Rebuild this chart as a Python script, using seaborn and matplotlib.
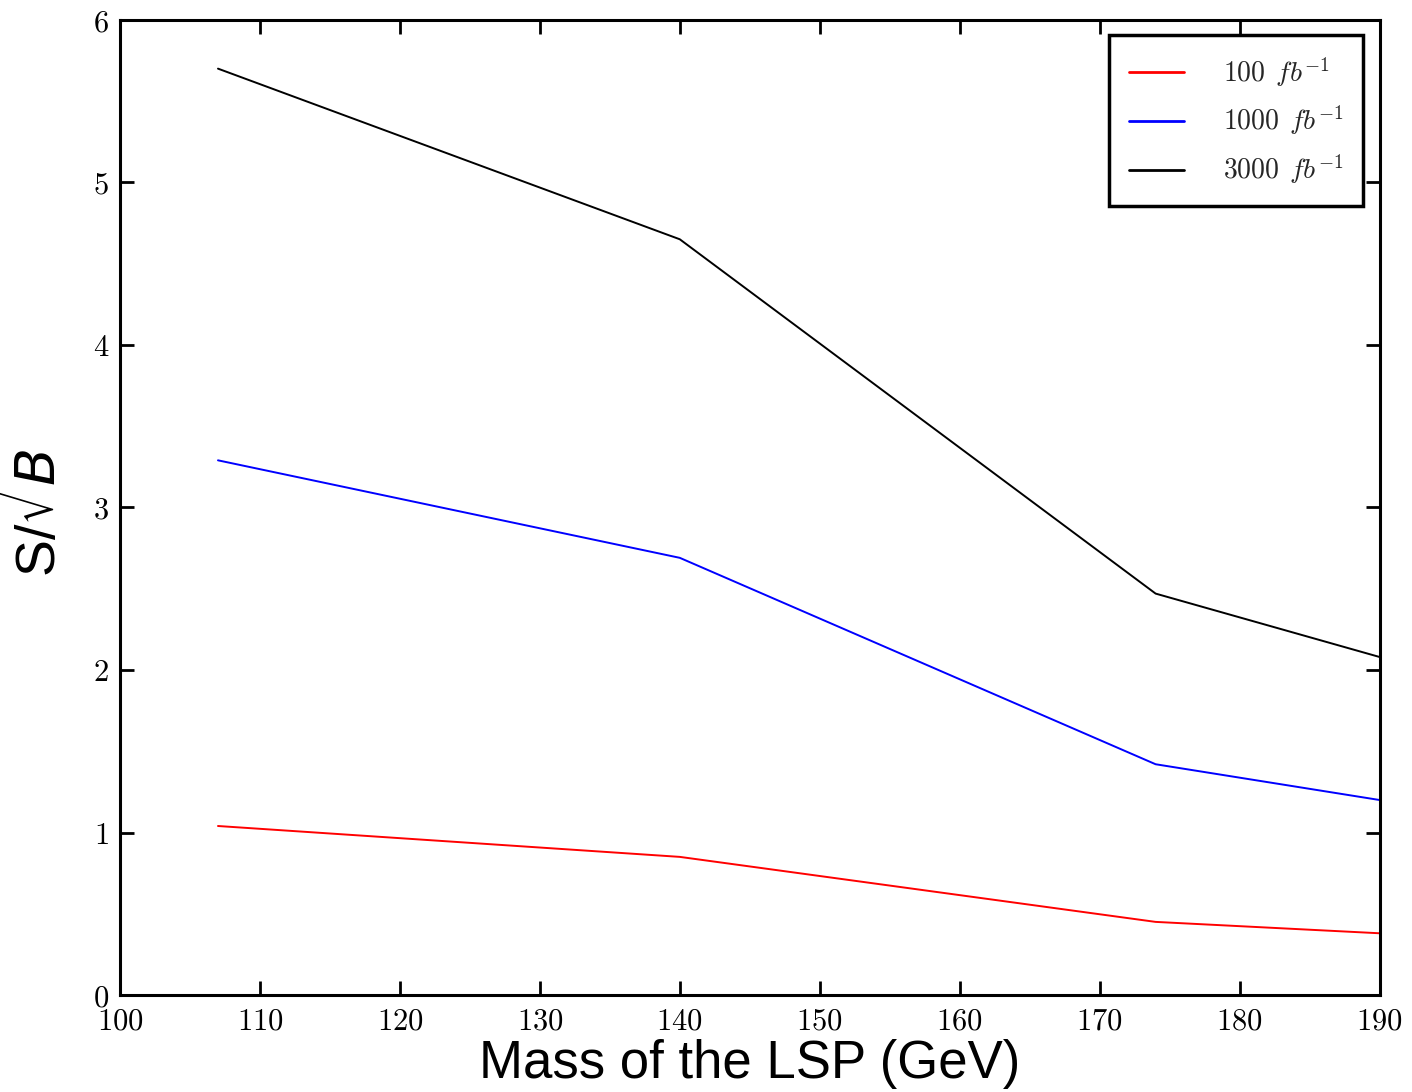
import numpy as np
import pandas as pd
import seaborn as sns
import matplotlib.pyplot as plt
from matplotlib.ticker import FuncFormatter, MultipleLocator

# -----------------------------
# Data
# -----------------------------
lsp_mass = [107, 140, 174, 190]
signif_100 = [1.04, 0.85, 0.45, 0.38]
signif_1000 = [3.29, 2.69, 1.42, 1.20]
signif_3000 = [5.70, 4.65, 2.47, 2.08]

lumi_labels = [r"$100\;\,fb^{-1}$", r"$1000\;\,fb^{-1}$", r"$3000\;\,fb^{-1}$"]
line_colors = ["#ff0000", "#0000ff", "#000000"]

df = pd.concat(
    [
        pd.DataFrame({"mass": lsp_mass, "signif": vals, "lumi": lab})
        for vals, lab in zip([signif_100, signif_1000, signif_3000], lumi_labels)
    ],
    ignore_index=True,
)

# -----------------------------
# Style
# -----------------------------
sns.set_style("ticks")
plt.rcParams["font.family"] = ["Liberation Sans", "DejaVu Sans"]
plt.rcParams["mathtext.fontset"] = "cm"

fig = plt.figure(figsize=(14.12, 10.92), dpi=100)
ax = fig.add_axes([0.085, 0.0888, 0.892, 0.893])

sns.lineplot(
    data=df,
    x="mass",
    y="signif",
    hue="lumi",
    hue_order=lumi_labels,
    palette=line_colors,
    linewidth=1.4,
    ax=ax,
)

ax.set_xlim(100, 190)
ax.set_ylim(0, 6)
ax.xaxis.set_major_locator(MultipleLocator(10))
ax.yaxis.set_major_locator(MultipleLocator(1))
fmt = FuncFormatter(lambda v, pos: f"${v:g}$")
ax.xaxis.set_major_formatter(fmt)
ax.yaxis.set_major_formatter(fmt)

for side in ["top", "right", "bottom", "left"]:
    ax.spines[side].set_visible(True)
    ax.spines[side].set_linewidth(2.2)
    ax.spines[side].set_color("black")

ax.tick_params(
    which="major", direction="in", length=10, width=2,
    top=True, right=True, labelsize=22, pad=8, colors="black",
)

ax.set_xlabel("Mass of the LSP (GeV)", fontsize=38, labelpad=2, color="black")
ylab = ax.set_ylabel(r"S/$\sqrt{B}$", fontsize=40, labelpad=18, color="black")
ylab.set_math_fontfamily("dejavusans")

leg = ax.legend(
    loc="upper right",
    fontsize=20,
    frameon=True,
    fancybox=False,
    handlelength=2.0,
    handletextpad=1.4,
    borderpad=0.7,
    labelspacing=0.55,
    borderaxespad=0,
    bbox_to_anchor=(0.987, 0.984),
)
leg.get_frame().set_edgecolor("black")
leg.get_frame().set_linewidth(2.5)
leg.get_frame().set_alpha(1)
for line in leg.get_lines():
    line.set_linewidth(2)

fig.savefig("out.png", dpi=100)
